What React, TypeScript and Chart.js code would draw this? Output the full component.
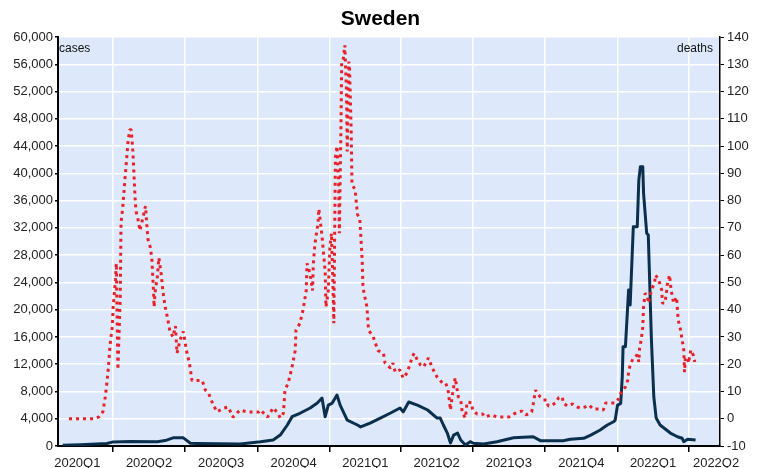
import React, { useEffect, useRef } from "react";
import { Chart, registerables } from "chart.js";
Chart.register(...registerables);

const TITLE = "Sweden";
const LEFT_TITLE = "cases";
const RIGHT_TITLE = "deaths";

// x values are days since 2020-01-01
const quarterLabels = ["2020Q1", "2020Q2", "2020Q3", "2020Q4", "2021Q1", "2021Q2", "2021Q3", "2021Q4", "2022Q1", "2022Q2"];
const quarterStarts = [0, 91, 182, 274, 366, 456, 547, 639, 731, 821, 911];
const X_MIN = 21;
const X_MAX = 861;

const caseDays = [
  27, 49, 83, 91, 113, 147, 157, 167, 180, 189,
  198, 252, 278, 294, 303, 312, 318, 328, 341, 350,
  356, 360, 364, 369, 375, 379, 388, 401, 405, 417,
  430, 443, 455, 459, 466, 477, 490, 502, 506, 510,
  515, 519, 523, 528, 532, 538, 544, 548, 561, 578,
  599, 624, 633, 662, 671, 688, 697, 709, 718, 726,
  728, 731, 735, 737, 738, 741, 745, 747, 751, 756,
  758, 760, 763, 764, 768, 770, 774, 777, 780, 785,
  798, 807, 813, 815, 820, 830,
];
const caseValues = [
  100, 200, 370, 600, 660, 630, 800, 1200, 1200, 400,
  370, 300, 630, 880, 1600, 3080, 4300, 4800, 5570, 6300,
  7040, 4300, 6000, 6300, 7480, 6000, 3800, 3080, 2790, 3370,
  4100, 4840, 5570, 5000, 6450, 6000, 5280, 4100, 4100, 3080,
  1900, 440, 1600, 1900, 880, 150, 630, 400, 300, 630,
  1200, 1360, 780, 780, 980, 1130, 1600, 2350, 3080, 3560,
  3800, 6000, 6260, 10170, 14570, 14570, 22880, 20690, 32170, 32170,
  39020, 40970, 40970, 37110, 31200, 30950, 15550, 7230, 4100, 3080,
  1900, 1360, 1130, 630, 980, 880,
];

const deathDays = [
  35, 50, 66, 73, 78, 81, 83, 85, 87, 90,
  91, 94, 95, 97, 100, 101, 103, 106, 108, 110,
  112, 114, 116, 117, 119, 120, 122, 125, 129, 132,
  134, 135, 138, 140, 142, 143, 144, 147, 149, 152,
  154, 157, 160, 163, 167, 170, 172, 176, 180, 184,
  188, 191, 198, 204, 208, 212, 218, 223, 231, 237,
  243, 252, 261, 269, 276, 278, 287, 294, 300, 303,
  307, 309, 313, 318, 322, 323, 328, 332, 336, 337,
  341, 344, 345, 347, 351, 352, 356, 360, 361, 364,
  366, 368, 370, 371, 373, 375, 377, 378, 380, 381,
  383, 385, 387, 388, 390, 391, 393, 394, 398, 401,
  404, 407, 408, 413, 415, 421, 427, 434, 436, 443,
  446, 449, 455, 459, 464, 471, 473, 477, 481, 485,
  491, 496, 502, 509, 513, 516, 519, 521, 525, 529,
  532, 534, 538, 540, 546, 547, 553, 560, 563, 570,
  579, 586, 593, 599, 605, 610, 615, 622, 624, 627,
  629, 633, 637, 641, 643, 648, 652, 656, 661, 662,
  667, 674, 680, 684, 690, 695, 700, 707, 713, 716,
  722, 728, 732, 737, 741, 744, 745, 747, 751, 756,
  758, 759, 761, 763, 764, 766, 769, 770, 773, 775,
  778, 779, 782, 784, 787, 788, 791, 793, 794, 797,
  799, 801, 802, 806, 807, 808, 811, 813, 815, 816,
  817, 820, 821, 824, 827, 829,
];
const deathValues = [
  0, 0, 0, 0.7, 2.6, 8, 13, 19, 27, 34,
  41, 51, 57, 18, 45, 72, 77, 88, 95, 102,
  106, 106, 98, 92, 80, 76, 74, 69, 74, 78,
  70, 66, 63, 59, 48, 41, 46, 52, 59, 53,
  47, 41, 37, 32, 30, 34, 24, 29, 32, 25,
  20, 14, 14, 14, 10.5, 9.4, 5, 2.5, 3.9, 4.3,
  0.6, 3.2, 2.5, 2.5, 2.5, 3.2, 0.6, 4, 2, 0.3,
  2, 10.5, 13, 19, 25, 32.5, 35, 40, 47, 57,
  53, 47, 57, 64, 72, 77, 67, 54, 41, 47,
  63, 68, 48, 35, 96, 100, 88, 68, 106, 131,
  132, 137, 120, 98, 131, 128, 106, 86, 84, 75,
  73, 58, 48, 41, 32.5, 30, 25, 24, 20.4, 18.6,
  20.4, 17.1, 17.9, 14.9, 16.8, 23, 24, 21.5, 19.7, 19,
  22.3, 18.6, 15.3, 13, 13, 10.5, 3.2, 8, 15, 8,
  6.9, 2.1, 0.3, 6.1, 5.8, 3.2, 1.7, 1.7, 0.6, 1.4,
  0.6, 0.6, 0.6, 1.7, 2.5, 2.8, 1.4, 2.5, 5.4, 10.5,
  9.4, 8, 6.9, 6.9, 4.7, 5, 5.8, 7.6, 8, 5.8,
  4.7, 5.4, 4.3, 3.9, 4.3, 5, 3.6, 3.6, 3.2, 5.8,
  5.8, 5.8, 7.2, 10.5, 11.6, 14.2, 17.1, 19.7, 22.3, 23.4,
  20.8, 25.9, 28.9, 33.6, 41, 46, 45, 42.4, 46, 47.9,
  49.8, 52.7, 51.6, 50.1, 47.2, 42.4, 42.4, 46, 49, 52.7,
  47, 44.3, 42.4, 44.6, 39.9, 36.2, 32.5, 28.9, 25.2, 17.1,
  22, 22.6, 20.4, 25.2, 23.4, 20.8,
];

const CASES_MIN = 0, CASES_MAX = 60000, CASES_STEP = 4000;
const DEATHS_MIN = -10, DEATHS_MAX = 140, DEATHS_STEP = 10;

const FONT = "'Liberation Sans', Arial, Helvetica, sans-serif";

export default function App() {
  const ref = useRef<HTMLCanvasElement | null>(null);
  useEffect(() => {
    document.body.style.margin = "0";
    const canvas = ref.current;
    if (!canvas) return;

    const labelPos = quarterLabels.map((lab, i) => {
      let mid = (quarterStarts[i] + quarterStarts[i + 1]) / 2;
      if (mid > X_MAX - 5) mid = X_MAX - 5;
      return { value: mid, label: lab };
    });
    const isBoundary = (v: number) => quarterStarts.indexOf(v) >= 0;

    const bgPlugin = {
      id: "bgPlugin",
      beforeDraw(chart: any) {
        const { ctx, chartArea } = chart;
        ctx.save();
        ctx.fillStyle = "#ffffff";
        ctx.fillRect(0, 0, chart.width, chart.height);
        ctx.fillStyle = "rgb(221,233,251)";
        ctx.fillRect(chartArea.left, chartArea.top, chartArea.right - chartArea.left, chartArea.bottom - chartArea.top);
        ctx.restore();
      },
      afterDraw(chart: any) {
        const { ctx, chartArea } = chart;
        ctx.save();
        ctx.fillStyle = "#000";
        ctx.font = `bold 21px ${FONT}`;
        ctx.textAlign = "center";
        ctx.textBaseline = "middle";
        ctx.fillText(TITLE, chart.width / 2, 19);
        ctx.font = `12px ${FONT}`;
        ctx.fillStyle = "#111";
        ctx.textBaseline = "alphabetic";
        ctx.textAlign = "left";
        ctx.fillText(LEFT_TITLE, chartArea.left + 1, chartArea.top + 15);
        ctx.textAlign = "right";
        ctx.fillText(RIGHT_TITLE, chartArea.right - 7, chartArea.top + 15);
        ctx.restore();
      },
    };

    const chart = new Chart(canvas, {
      type: "line",
      data: {
        datasets: [
          {
            label: "deaths",
            data: deathDays.map((d, i) => ({ x: d, y: deathValues[i] })),
            yAxisID: "y1",
            borderColor: "rgb(232,32,40)",
            borderWidth: 3,
            borderDash: [3, 4],
            borderCapStyle: "butt",
            borderJoinStyle: "bevel",
            pointRadius: 0,
            tension: 0,
            fill: false,
          },
          {
            label: "cases",
            data: caseDays.map((d, i) => ({ x: d, y: caseValues[i] })),
            yAxisID: "y",
            borderColor: "rgb(10,48,78)",
            borderWidth: 3,
            borderJoinStyle: "round",
            pointRadius: 0,
            tension: 0,
            fill: false,
          },
        ],
      },
      options: {
        responsive: false,
        animation: false,
        devicePixelRatio: 1,
        layout: { padding: { top: 37, left: 0, right: 0, bottom: 0 } },
        plugins: {
          legend: { display: false },
          title: { display: false },
          tooltip: { enabled: false },
        },
        scales: {
          x: {
            type: "linear",
            min: X_MIN,
            max: X_MAX,
            afterBuildTicks(axis: any) {
              const t: any[] = [];
              quarterStarts.forEach((v) => {
                if (v >= X_MIN && v <= X_MAX) t.push({ value: v });
              });
              labelPos.forEach((p) => t.push({ value: p.value }));
              t.sort((a, b) => a.value - b.value);
              axis.ticks = t;
            },
            afterFit(scale: any) {
              scale.height = 22;
            },
            ticks: {
              autoSkip: false,
              maxRotation: 0,
              minRotation: 0,
              padding: 4,
              color: "#222",
              font: { size: 13, family: FONT },
              callback(value: any) {
                const p = labelPos.find((q) => q.value === value);
                return p ? p.label : "";
              },
            },
            grid: {
              color: (c: any) => (c.tick && isBoundary(c.tick.value) ? "#ffffff" : "rgba(0,0,0,0)"),
              tickColor: (c: any) => (c.tick && isBoundary(c.tick.value) ? "#000000" : "rgba(0,0,0,0)"),
              lineWidth: 1.5,
              tickLength: 6,
              tickWidth: 1.5,
            },
            border: { display: true, color: "#000", width: 2 },
          },
          y: {
            type: "linear",
            position: "left",
            min: CASES_MIN,
            max: CASES_MAX,
            afterFit(scale: any) {
              scale.width = 58;
            },
            ticks: {
              stepSize: CASES_STEP,
              padding: 2,
              color: "#222",
              font: { size: 13, family: FONT },
              callback: (v: any) => Number(v).toLocaleString("en-US"),
            },
            grid: {
              color: "#ffffff",
              lineWidth: 1.5,
              tickColor: "#000",
              tickLength: 3,
            },
            border: { display: true, color: "#000", width: 2 },
          },
          y1: {
            type: "linear",
            position: "right",
            min: DEATHS_MIN,
            max: DEATHS_MAX,
            afterFit(scale: any) {
              scale.width = 41;
            },
            ticks: {
              stepSize: DEATHS_STEP,
              padding: 3,
              color: "#222",
              font: { size: 13, family: FONT },
              callback: (v: any) => String(v),
            },
            grid: {
              drawOnChartArea: false,
              tickColor: "#000",
              tickLength: 4,
            },
            border: { display: true, color: "#000", width: 1.5 },
          },
        },
      } as any,
      plugins: [bgPlugin],
    });
    return () => chart.destroy();
  }, []);
  return (
    <div style={{ width: 761, height: 468 }}>
      <canvas ref={ref} width={761} height={468} style={{ display: "block" }} />
    </div>
  );
}
